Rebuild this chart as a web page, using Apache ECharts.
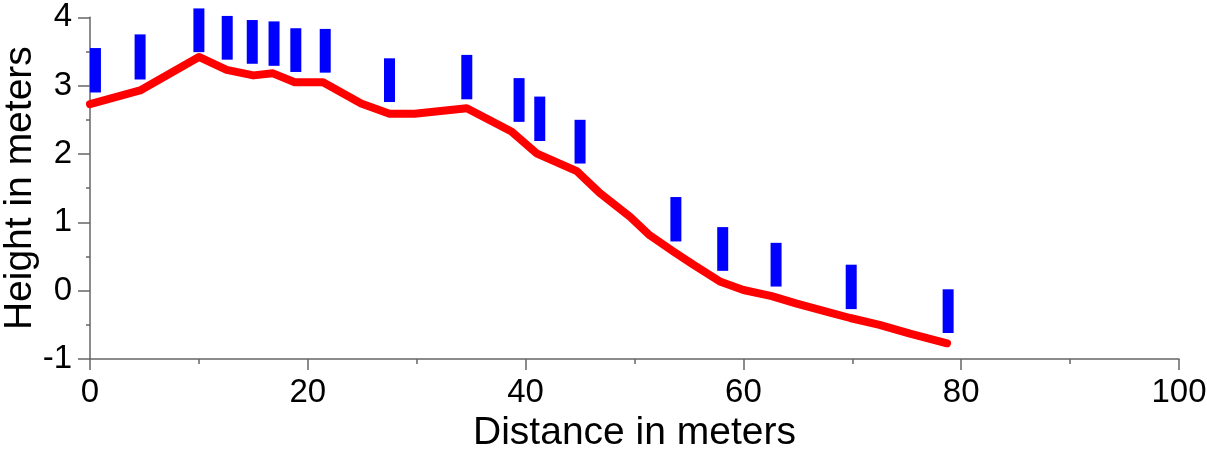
<!DOCTYPE html>
<html>
<head>
<meta charset="utf-8">
<script src="https://cdn.jsdelivr.net/npm/echarts@6/dist/echarts.min.js"></script>
<style>
html,body{margin:0;padding:0;background:#fff;}
#chart{width:1207px;height:450px;}
</style>
</head>
<body>
<div id="chart"></div>
<script>
// Blue range bars: distance, low, high (meters)
const barX    = [0.5, 4.6, 10, 12.6, 14.9, 16.9, 18.9, 21.6, 27.5, 34.6, 39.4, 41.3, 45.0, 53.8, 58.1, 63.0, 69.9, 78.8];
const barHigh = [3.55, 3.75, 4.13, 4.02, 3.96, 3.94, 3.84, 3.83, 3.40, 3.45, 3.11, 2.84, 2.50, 1.37, 0.93, 0.70, 0.38, 0.02];
const barLow  = [2.90, 3.09, 3.49, 3.38, 3.32, 3.29, 3.20, 3.19, 2.76, 2.80, 2.47, 2.19, 1.86, 0.72, 0.29, 0.06, -0.27, -0.62];

// Red ground profile
const profileX = [0, 4.6, 10, 12.55, 15.0, 16.8, 18.8, 21.4, 24.9, 27.5, 29.8, 34.6, 38.7, 41.0, 44.7, 46.8, 49.6, 51.4, 53.6, 55.4, 57.9, 60.0, 62.6, 64.9, 67.7, 69.8, 72.5, 75.3, 78.7];
const profileY = [2.73, 2.93, 3.42, 3.23, 3.15, 3.18, 3.05, 3.05, 2.74, 2.59, 2.59, 2.67, 2.33, 2.01, 1.75, 1.43, 1.08, 0.81, 0.57, 0.38, 0.13, 0.01, -0.08, -0.19, -0.31, -0.40, -0.50, -0.63, -0.77];

const xTicks = [0, 20, 40, 60, 80, 100];
const yTicks = [-1, 0, 1, 2, 3, 4];

const FONT = '"Liberation Sans", Arial, sans-serif';
const AX = '#666666';

const chart = echarts.init(document.getElementById('chart'), null, {renderer: 'canvas'});
chart.setOption({
  animation: false,
  backgroundColor: '#ffffff',
  grid: {left: 90, right: 28, top: 17.3, bottom: 91, containLabel: false, outerBoundsMode: 'none'},
  xAxis: {
    type: 'value', min: xTicks[0], max: xTicks[xTicks.length - 1], interval: 20,
    name: 'Distance in meters', nameLocation: 'middle', nameGap: 55,
    nameTextStyle: {fontFamily: FONT, fontSize: 39, color: '#000'},
    axisLine: {show: true, onZero: false, lineStyle: {color: AX, width: 1.5}},
    axisTick: {show: true, inside: false, length: 11, lineStyle: {color: AX, width: 1.5}},
    minorTick: {show: true, splitNumber: 2, length: 5, lineStyle: {color: AX, width: 1.5}},
    axisLabel: {fontFamily: FONT, fontSize: 33, color: '#000', margin: 17},
    splitLine: {show: false}
  },
  yAxis: {
    type: 'value', min: yTicks[0], max: yTicks[yTicks.length - 1], interval: 1,
    name: 'Height in meters', nameLocation: 'middle', nameGap: 50, nameMoveOverlap: false,
    nameTextStyle: {fontFamily: FONT, fontSize: 39, color: '#000'},
    axisLine: {show: true, onZero: false, lineStyle: {color: AX, width: 1.5}},
    axisTick: {show: true, inside: false, length: 12, lineStyle: {color: AX, width: 1.5}},
    minorTick: {show: true, splitNumber: 2, length: 4, lineStyle: {color: AX, width: 1.5}},
    axisLabel: {fontFamily: FONT, fontSize: 33, color: '#000', margin: 18},
    splitLine: {show: false}
  },
  series: [
    {
      type: 'custom',
      clip: false,
      data: barX.map((x, i) => [x, barLow[i], barHigh[i]]),
      renderItem: function (params, api) {
        const x = api.value(0);
        const top = api.coord([x, api.value(2)]);
        const bot = api.coord([x, api.value(1)]);
        return {
          type: 'rect',
          shape: {x: top[0] - 5.5, y: top[1], width: 11, height: bot[1] - top[1]},
          style: {fill: '#0000ff'}
        };
      },
      z: 3
    },
    {
      type: 'line',
      data: profileX.map((x, i) => [x, profileY[i]]),
      showSymbol: false,
      symbol: 'none',
      smooth: false,
      clip: false,
      lineStyle: {color: '#ff0000', width: 8, cap: 'round', join: 'round'},
      z: 2
    }
  ]
});
</script>
</body>
</html>
